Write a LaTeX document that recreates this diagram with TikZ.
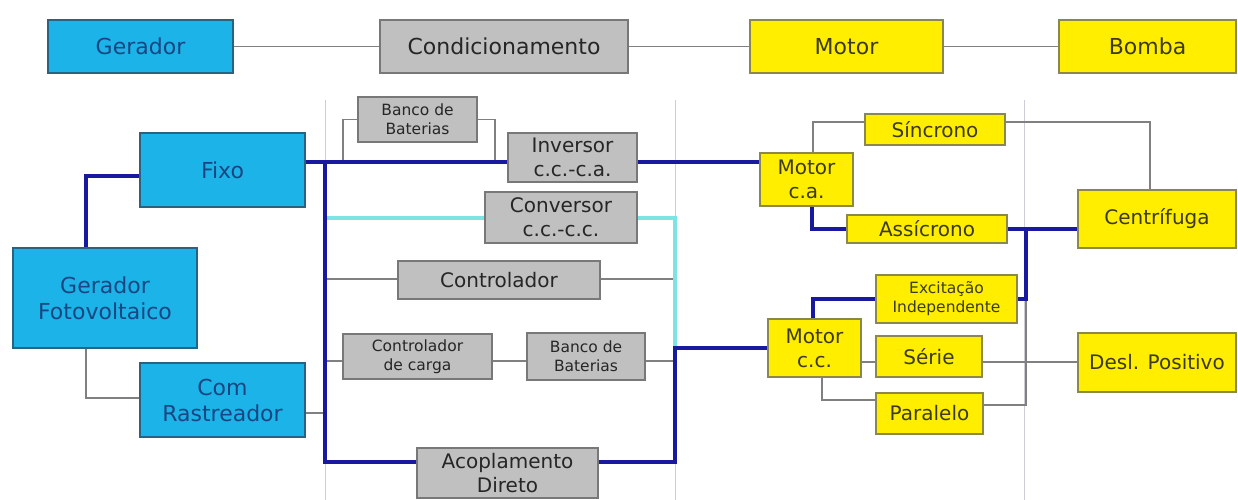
\documentclass[tikz,border=0pt]{standalone}
\usepackage{fontspec}
\setmainfont{DejaVu Sans}
\usetikzlibrary{calc}
\definecolor{cyanfill}{RGB}{28,180,232}
\definecolor{cyanborder}{RGB}{40,100,130}
\definecolor{cyantext}{RGB}{25,70,130}
\definecolor{grayfill}{RGB}{192,192,192}
\definecolor{grayborder}{RGB}{120,120,120}
\definecolor{graytext}{RGB}{38,38,38}
\definecolor{yellowfill}{RGB}{255,238,0}
\definecolor{yellowborder}{RGB}{140,135,75}
\definecolor{yellowtext}{RGB}{60,58,30}
\definecolor{wiregray}{RGB}{128,128,128}
\definecolor{bluewire}{RGB}{25,25,160}
\definecolor{cyanwire}{RGB}{125,228,228}
\definecolor{sepgray}{RGB}{205,205,215}
\newcommand\mybox[8]{\node[#1,#8,minimum width={#5pt-#3pt},minimum height={#6pt-#4pt}] (#2) at ({(#3+#5)/2},{(#4+#6)/2}) {#7};}
\begin{document}
\begin{tikzpicture}[x=1pt,y=-1pt,
  box/.style={draw,line width=1.5pt,inner sep=0pt,align=center,anchor=center},
  cbox/.style={box,fill=cyanfill,draw=cyanborder,text=cyantext},
  gbox/.style={box,fill=grayfill,draw=grayborder,text=graytext},
  ybox/.style={box,fill=yellowfill,draw=yellowborder,text=yellowtext},
  big/.style={font=\fontsize{22}{26}\selectfont},
  mid/.style={font=\fontsize{20}{24}\selectfont},
  sml/.style={font=\fontsize{15.5}{19}\selectfont},
  wire/.style={draw=wiregray,line width=1.8pt},
  bwire/.style={draw=bluewire,line width=4.6pt},
  cwire/.style={draw=cyanwire,line width=4pt},
  sepline/.style={draw=sepgray,line width=1pt}]
\useasboundingbox (0,0) rectangle (1238,500);
% separators
\coordinate (sa) at (325,100); \coordinate (sb) at (675,100); \coordinate (sc) at (1024,100);
\draw[sepline] (sa) -- ++(0,400);
\draw[sepline] (sb) -- ++(0,400);
\draw[sepline] (sc) -- ++(0,400);
% nodes
\mybox{cbox}{ger}{48}{20}{233}{73}{Gerador}{big}
\mybox{gbox}{cond}{380}{20}{628}{73}{Condicionamento}{big}
\mybox{ybox}{motor}{750}{20}{943}{73}{Motor}{big}
\mybox{ybox}{bomba}{1059}{20}{1236}{73}{Bomba}{big}
\mybox{cbox}{fixo}{140}{133}{305}{207}{Fixo}{big}
\mybox{cbox}{gf}{13}{248}{197}{348}{Gerador\\Fotovoltaico}{big}
\mybox{cbox}{rast}{140}{363}{305}{437}{Com\\Rastreador}{big}
\mybox{gbox}{bbA}{358}{97}{477}{142}{Banco de\\Baterias}{sml}
\mybox{gbox}{inv}{508}{133}{637}{182}{Inversor\\c.c.-c.a.}{mid}
\mybox{gbox}{conv}{485}{192}{637}{243}{Conversor\\c.c.-c.c.}{mid}
\mybox{gbox}{ctrl}{398}{261}{600}{299}{Controlador}{mid}
\mybox{gbox}{cc}{343}{334}{492}{379}{Controlador\\de carga}{sml}
\mybox{gbox}{bbB}{527}{333}{645}{380}{Banco de\\Baterias}{sml}
\mybox{gbox}{acop}{417}{448}{598}{498}{Acoplamento\\Direto}{mid}
\mybox{ybox}{mca}{760}{153}{853}{206}{Motor\\c.a.}{mid}
\mybox{ybox}{sinc}{865}{114}{1005}{145}{Síncrono}{mid}
\mybox{ybox}{assi}{847}{215}{1007}{243}{Assícrono}{mid}
\mybox{ybox}{mcc}{768}{319}{861}{377}{Motor\\c.c.}{mid}
\mybox{ybox}{exc}{876}{275}{1017}{323}{Excitação\\Independente}{sml}
\mybox{ybox}{serie}{876}{336}{982}{377}{Série}{mid}
\mybox{ybox}{par}{876}{393}{983}{434}{Paralelo}{mid}
\mybox{ybox}{cent}{1078}{190}{1236}{248}{Centrífuga}{mid}
\mybox{ybox}{desl}{1078}{333}{1236}{392}{Desl. Positivo}{mid}
% junction coordinates
\coordinate (bA) at (325,162);
\coordinate (bB) at (325,462);
\coordinate (rA) at (675,348);
\coordinate (rB) at (675,462);
\coordinate (gx) at (86,176);
\coordinate (gy) at (86,398);
\coordinate (rb) at (325,413);
\coordinate (bl) at (343,162);
\coordinate (br) at (495,162);
\coordinate (cy) at (325,218);
\coordinate (cr) at (675,218);
\coordinate (k1) at (325,279);
\coordinate (k2) at (325,361);
\coordinate (s1) at (813,122);
\coordinate (s2) at (1150,122);
\coordinate (a1) at (812,229);
\coordinate (j1) at (1026,229);
\coordinate (j2) at (1026,405);
\coordinate (m1) at (813,298);
\coordinate (m2) at (861,362);
\coordinate (m3) at (822,400);
% top row
\draw[wire] (ger.east) -- (cond.west);
\draw[wire] (cond.east) -- (motor.west);
\draw[wire] (motor.east) -- (bomba.west);
% gray wires
\draw[wire] (gx |- gf.south) -- (gy) -- (gy -| rast.west);
\draw[wire] (rast.east |- rb) -- (rb);
\draw[wire] (bl) |- (bbA.west);
\draw[wire] (bbA.east) -| (br);
\draw[wire] (k1) -- (k1 -| ctrl.west);
\draw[wire] (ctrl.east |- k1) -- (k1 -| rA);
\draw[wire] (k2) -- (k2 -| cc.west);
\draw[wire] (cc.east |- k2) -- (k2 -| bbB.west);
\draw[wire] (bbB.east |- k2) -- (k2 -| rA);
\draw[wire] (s1 |- mca.north) -- (s1) -- (s1 -| sinc.west);
\draw[wire] (sinc.east |- s2) -- (s2) -- (s2 |- cent.north);
\draw[wire] (j1 |- exc.east) -- (j2) -- (j2 -| par.east);
\draw[wire] (mcc.east |- m2) -- (m2 -| serie.west);
\draw[wire] (serie.east |- m2) -- (m2 -| desl.west);
\draw[wire] (m3 |- mcc.south) -- (m3) -- (m3 -| par.west);
% cyan wires
\draw[cwire] (cy) -- (cy -| conv.west);
\draw[cwire] (conv.east |- cr) -- (cr) -- (rA);
% blue wires
\draw[bwire] (fixo.west |- gx) -- (gx) -- (gx |- gf.north);
\draw[bwire] (fixo.east |- bA) -- (bA -| inv.west);
\draw[bwire] (inv.east |- bA) -- (bA -| mca.west);
\draw[bwire] (bA) -- (bB) -- (bB -| acop.west);
\draw[bwire] (acop.east |- bB) -- (rB) -- (rA) -- (rA -| mcc.west);
\draw[bwire] (a1 |- mca.south) -- (a1) -- (a1 -| assi.west);
\draw[bwire] (assi.east |- j1) -- (j1 -| cent.west);
\draw[bwire] (j1) -- (j1 |- exc.east) -- (exc.east);
\draw[bwire] (m1 |- mcc.north) -- (m1 |- exc.west) -- (exc.west);
\end{tikzpicture}
\end{document}
